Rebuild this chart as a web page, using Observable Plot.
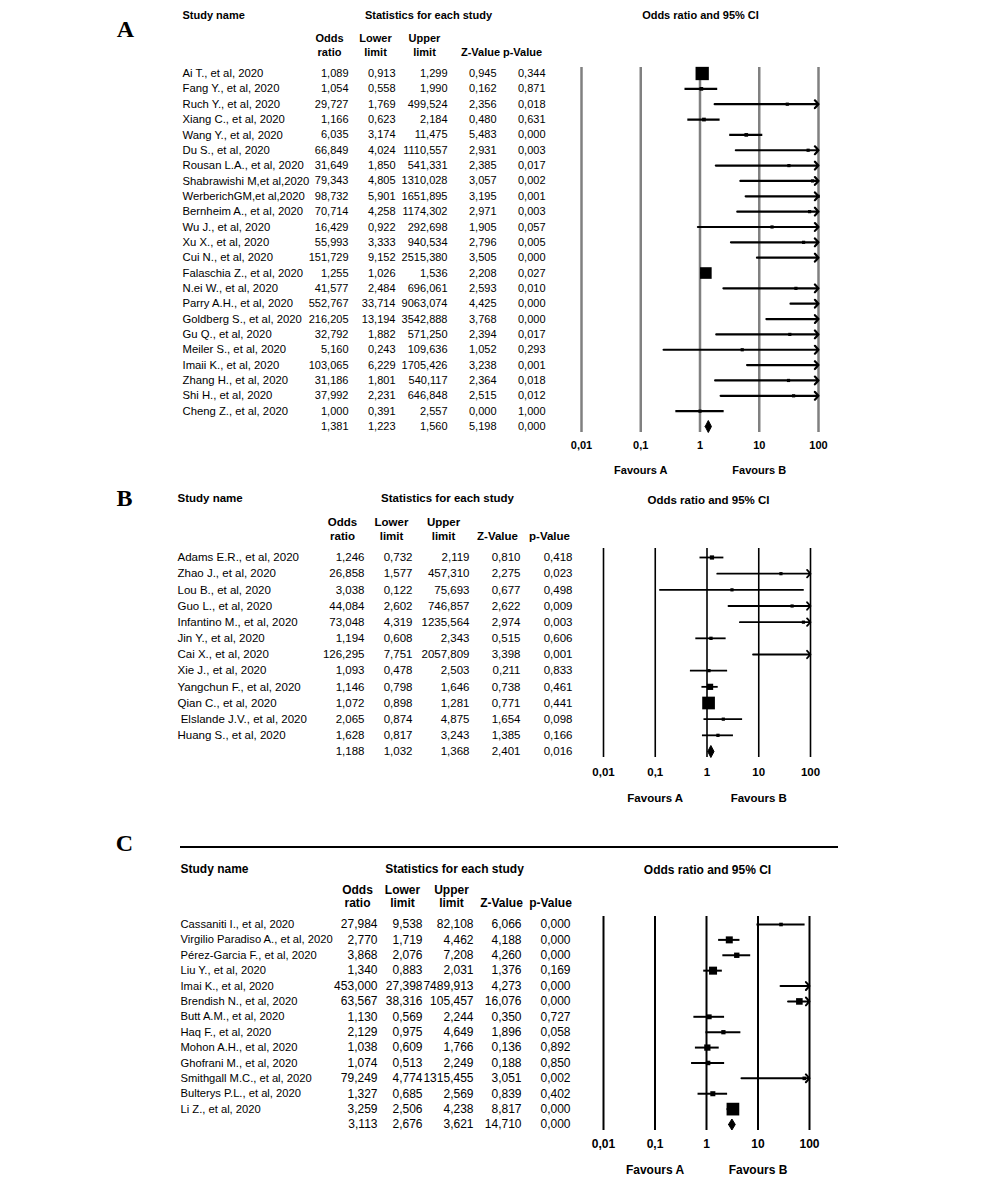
<!DOCTYPE html>
<html>
<head>
<meta charset="utf-8">
<script src="https://cdn.jsdelivr.net/npm/d3@7"></script>
<script src="https://cdn.jsdelivr.net/npm/@observablehq/plot@0.6"></script>
<style>
  body { margin: 0; background: #fff; }
  #fig { position: relative; width: 1000px; height: 1187px; background: #fff; overflow: hidden; }
  #fig svg { position: absolute; left: 0; }
</style>
</head>
<body>
<div id="fig"></div>
<script>
// ---------- shared axis ----------
const tickValues = [0.01, 0.1, 1, 10, 100];
const tickLabels = ["0,01", "0,1", "1", "10", "100"];
const favourLabels = ["Favours A", "Favours B"];
const favourValues = [0.1, 10];
const columnKeys = ["or", "lo", "hi", "z", "p"];
const headerLine1 = ["Odds", "Lower", "Upper", "", ""];
const headerLine2 = ["ratio", "limit", "limit", "Z-Value", "p-Value"];

// ---------- Panel A ----------
const namesA = ["Ai T., et al, 2020", "Fang Y., et al, 2020", "Ruch Y., et al, 2020", "Xiang C., et al, 2020",
  "Wang Y., et al, 2020", "Du S., et al, 2020", "Rousan L.A., et al, 2020", "Shabrawishi M,et al,2020",
  "WerberichGM,et al,2020", "Bernheim A., et al, 2020", "Wu J., et al, 2020", "Xu X., et al, 2020",
  "Cui N., et al, 2020", "Falaschia Z., et al, 2020", "N.ei W., et al, 2020", "Parry A.H., et al, 2020",
  "Goldberg S., et al, 2020", "Gu Q., et al, 2020", "Meiler S., et al, 2020", "Imaii K., et al, 2020",
  "Zhang H., et al, 2020", "Shi H., et al, 2020", "Cheng Z., et al, 2020"];
const orA = [1.089, 1.054, 29.727, 1.166, 6.035, 66.849, 31.649, 79.343, 98.732, 70.714, 16.429, 55.993,
  151.729, 1.255, 41.577, 552.767, 216.205, 32.792, 5.160, 103.065, 31.186, 37.992, 1.000];
const loA = [0.913, 0.558, 1.769, 0.623, 3.174, 4.024, 1.850, 4.805, 5.901, 4.258, 0.922, 3.333,
  9.152, 1.026, 2.484, 33.714, 13.194, 1.882, 0.243, 6.229, 1.801, 2.231, 0.391];
const hiA = [1.299, 1.990, 499.524, 2.184, 11.475, 1110.557, 541.331, 1310.028, 1651.895, 1174.302, 292.698, 940.534,
  2515.380, 1.536, 696.061, 9063.074, 3542.888, 571.250, 109.636, 1705.426, 540.117, 646.848, 2.557];
const zA = [0.945, 0.162, 2.356, 0.480, 5.483, 2.931, 2.385, 3.057, 3.195, 2.971, 1.905, 2.796,
  3.505, 2.208, 2.593, 4.425, 3.768, 2.394, 1.052, 3.238, 2.364, 2.515, 0.000];
const pA = [0.344, 0.871, 0.018, 0.631, 0.000, 0.003, 0.017, 0.002, 0.001, 0.003, 0.057, 0.005,
  0.000, 0.027, 0.010, 0.000, 0.000, 0.017, 0.293, 0.001, 0.018, 0.012, 1.000];
const summaryA = [1.381, 1.223, 1.560, 5.198, 0.000];

// ---------- Panel B ----------
const namesB = ["Adams E.R., et al, 2020", "Zhao J., et al, 2020", "Lou B., et al, 2020", "Guo L., et al, 2020",
  "Infantino M., et al, 2020", "Jin Y., et al, 2020", "Cai X., et al, 2020", "Xie J., et al, 2020",
  "Yangchun F., et al, 2020", "Qian C., et al, 2020", "\u00a0Elslande J.V., et al, 2020", "Huang S., et al, 2020"];
const orB = [1.246, 26.858, 3.038, 44.084, 73.048, 1.194, 126.295, 1.093, 1.146, 1.072, 2.065, 1.628];
const loB = [0.732, 1.577, 0.122, 2.602, 4.319, 0.608, 7.751, 0.478, 0.798, 0.898, 0.874, 0.817];
const hiB = [2.119, 457.310, 75.693, 746.857, 1235.564, 2.343, 2057.809, 2.503, 1.646, 1.281, 4.875, 3.243];
const zB = [0.810, 2.275, 0.677, 2.622, 2.974, 0.515, 3.398, 0.211, 0.738, 0.771, 1.654, 1.385];
const pB = [0.418, 0.023, 0.498, 0.009, 0.003, 0.606, 0.001, 0.833, 0.461, 0.441, 0.098, 0.166];
const summaryB = [1.188, 1.032, 1.368, 2.401, 0.016];

// ---------- Panel C ----------
const namesC = ["Cassaniti I., et al, 2020", "Virgilio Paradiso A., et al, 2020", "Pérez-Garcia F., et al, 2020",
  "Liu Y., et al, 2020", "Imai K., et al, 2020", "Brendish N., et al, 2020", "Butt A.M., et al, 2020",
  "Haq F., et al, 2020", "Mohon A.H., et al, 2020", "Ghofrani M., et al, 2020", "Smithgall M.C., et al, 2020",
  "Bulterys P.L., et al, 2020", "Li Z., et al, 2020"];
const orC = [27.984, 2.770, 3.868, 1.340, 453.000, 63.567, 1.130, 2.129, 1.038, 1.074, 79.249, 1.327, 3.259];
const loC = [9.538, 1.719, 2.076, 0.883, 27.398, 38.316, 0.569, 0.975, 0.609, 0.513, 4.774, 0.685, 2.506];
const hiC = [82.108, 4.462, 7.208, 2.031, 7489.913, 105.457, 2.244, 4.649, 1.766, 2.249, 1315.455, 2.569, 4.238];
const zC = [6.066, 4.188, 4.260, 1.376, 4.273, 16.076, 0.350, 1.896, 0.136, 0.188, 3.051, 0.839, 8.817];
const pC = [0.000, 0.000, 0.000, 0.169, 0.000, 0.000, 0.727, 0.058, 0.892, 0.850, 0.002, 0.402, 0.000];
const summaryC = [3.113, 2.676, 3.621, 14.710, 0.000];

// ---------- rendering ----------
const W = 1000;
const fmt = v => d3.format(".3f")(v).replace(".", ",");

function buildPanel(c, L) {
  const n = c.names.length;
  const rows = c.names.map((name, i) => ({i, name, or: c.or[i], lo: c.lo[i], hi: c.hi[i], z: c.z[i], p: c.p[i]}));
  const summary = {i: n, name: "", or: c.sum[0], lo: c.sum[1], hi: c.sum[2], z: c.sum[3], p: c.sum[4]};
  const table = rows.concat([summary]);
  const top = L.top, H = L.height;
  const mL = L.xRange[0], mR = W - L.xRange[1], mT = L.lineTop - top, mB = top + H - L.lineBottom;
  const rowPx = (L.sumY - L.firstY) / n;
  // inverse-variance weights -> square area
  const w = rows.map(d => { const se = (Math.log(d.hi) - Math.log(d.lo)) / 3.92; return 1 / (se * se); });
  const wMax = d3.max(w);
  rows.forEach((d, k) => { d.side = Math.max(L.minSide, L.maxSide * Math.sqrt(w[k] / wMax)); });
  const at = (px, py) => ({frameAnchor: "top-left", lineAnchor: "middle", dx: px - mL, dy: py - L.lineTop});
  const hh = L.diamondHalf / rowPx;
  const diamond = [
    {x: summary.lo, y: n}, {x: summary.or, y: n - hh}, {x: summary.hi, y: n},
    {x: summary.or, y: n + hh}, {x: summary.lo, y: n}
  ];
  const inside = rows.filter(d => d.hi <= 100);
  const clipped = rows.filter(d => d.hi > 100);
  const shown = rows.filter(d => d.or >= 0.01 && d.or <= 100);

  const marks = [
    Plot.ruleX(tickValues, {stroke: L.gridColor, strokeWidth: L.gridWidth}),
    Plot.text(tickValues, {x: d => d, text: (d, i) => tickLabels[i], frameAnchor: "bottom", lineAnchor: "middle",
      dy: L.tickY - L.lineBottom, fontWeight: "bold"}),
    Plot.text(favourLabels, {x: (d, i) => favourValues[i], text: d => d, frameAnchor: "bottom", lineAnchor: "middle",
      dy: L.favY - L.lineBottom, fontWeight: "bold"}),
    Plot.ruleY(inside, {y: "i", x1: "lo", x2: "hi", stroke: "black", strokeWidth: L.ciWidth}),
    Plot.arrow(clipped, {x1: "lo", x2: d => Math.min(d.hi, 100), y1: "i", y2: "i", stroke: "black",
      strokeWidth: L.ciWidth, headLength: L.headLength, headAngle: 95}),
    Plot.dot(shown, {x: "or", y: "i", symbol: "square", fill: "black", stroke: null,
      r: d => d.side / Math.sqrt(Math.PI)}),
    Plot.line(diamond, {x: "x", y: "y", fill: "black", stroke: "black", strokeWidth: 1}),
    // table: names
    Plot.text(rows, {y: "i", text: "name", frameAnchor: "left", dx: L.nameX - mL, textAnchor: "start",
      fontSize: L.nameSize}),
    // table: numbers
    ...columnKeys.map((k, j) => Plot.text(table, {y: "i", text: d => fmt(d[k]), frameAnchor: "left",
      dx: L.colRight[j] - mL, textAnchor: "end"})),
    // headers
    Plot.text([c.label], {...at(L.labelX, L.labelY), fontFamily: "Liberation Serif, Times New Roman, serif",
      fontWeight: "bold", fontSize: 24, textAnchor: "middle"}),
    Plot.text(["Study name"], {...at(L.nameX, L.titleY), fontWeight: "bold", textAnchor: "start"}),
    Plot.text(["Statistics for each study"], {...at(L.statsX, L.titleY), fontWeight: "bold", textAnchor: "middle"}),
    Plot.text(["Odds ratio and 95% CI"], {...at(L.ciTitleX, L.ciTitleY), fontWeight: "bold", textAnchor: "middle"}),
    ...headerLine1.map((t, j) => Plot.text([t], {...at(L.hdrX[j], L.hdr1Y), fontWeight: "bold", textAnchor: "middle"})),
    ...headerLine2.map((t, j) => Plot.text([t], {...at(L.hdrX[j], L.hdr2Y), fontWeight: "bold", textAnchor: "middle"}))
  ];

  const svg = Plot.plot({
    width: W, height: H,
    marginLeft: mL, marginRight: mR, marginTop: mT, marginBottom: mB,
    x: {type: "log", domain: [0.01, 100], range: L.xRange, axis: null},
    y: {type: "linear", domain: [0, n], range: [L.firstY - top, L.sumY - top], axis: null},
    r: {type: "linear", domain: [0, 10], range: [0, 10]},
    style: {fontFamily: "'Liberation Sans', Arial, sans-serif", fontSize: L.fontSize + "px", color: "black",
      background: "transparent", overflow: "visible"},
    marks
  });
  svg.style.top = top + "px";
  if (L.topRule) {
    d3.select(svg).append("line")
      .attr("x1", L.topRule[0]).attr("x2", L.topRule[1])
      .attr("y1", L.topRule[2] - top).attr("y2", L.topRule[2] - top)
      .attr("stroke", "black").attr("stroke-width", 2);
  }
  document.getElementById("fig").appendChild(svg);
}

buildPanel(
  {label: "A", names: namesA, or: orA, lo: loA, hi: hiA, z: zA, p: pA, sum: summaryA},
  {top: 0, height: 485, fontSize: 11, nameSize: 11.3, xRange: [581, 818], lineTop: 67, lineBottom: 432,
   firstY: 73, sumY: 426, tickY: 445, favY: 470, nameX: 182,
   colRight: [348, 395, 447, 496, 545], hdrX: [329, 375, 424, 480, 522], hdr1Y: 38, hdr2Y: 52,
   titleY: 15, statsX: 428, ciTitleX: 700, ciTitleY: 15, labelX: 125, labelY: 29,
   gridColor: "#808080", gridWidth: 2.5, ciWidth: 2.2, headLength: 3.6,
   maxSide: 13.3, minSide: 3.2, diamondHalf: 6}
);

buildPanel(
  {label: "B", names: namesB, or: orB, lo: loB, hi: hiB, z: zB, p: pB, sum: summaryB},
  {top: 485, height: 330, fontSize: 11.5, nameSize: 11.5, xRange: [603, 810], lineTop: 548, lineBottom: 757,
   firstY: 557, sumY: 751, tickY: 772, favY: 798, nameX: 177,
   colRight: [364, 412, 469, 520, 572], hdrX: [342, 391, 443, 497, 549], hdr1Y: 522, hdr2Y: 536,
   titleY: 498, statsX: 447, ciTitleX: 708, ciTitleY: 500, labelX: 124, labelY: 498,
   gridColor: "black", gridWidth: 1.6, ciWidth: 1.8, headLength: 4.2,
   maxSide: 12.7, minSide: 3.2, diamondHalf: 6}
);

buildPanel(
  {label: "C", names: namesC, or: orC, lo: loC, hi: hiC, z: zC, p: pC, sum: summaryC},
  {top: 820, height: 367, fontSize: 12, nameSize: 11.2, xRange: [603, 809], lineTop: 916, lineBottom: 1130,
   firstY: 924, sumY: 1124, tickY: 1144, favY: 1170, nameX: 180,
   colRight: [377, 422, 473, 521, 570], hdrX: [357, 402, 451, 501, 550], hdr1Y: 890, hdr2Y: 903,
   titleY: 869, statsX: 454, ciTitleX: 707, ciTitleY: 870, labelX: 124, labelY: 843,
   gridColor: "black", gridWidth: 2, ciWidth: 2, headLength: 4,
   maxSide: 12.7, minSide: 3.6, diamondHalf: 5.5,
   topRule: [180, 838, 847]}
);
</script>
</body>
</html>
